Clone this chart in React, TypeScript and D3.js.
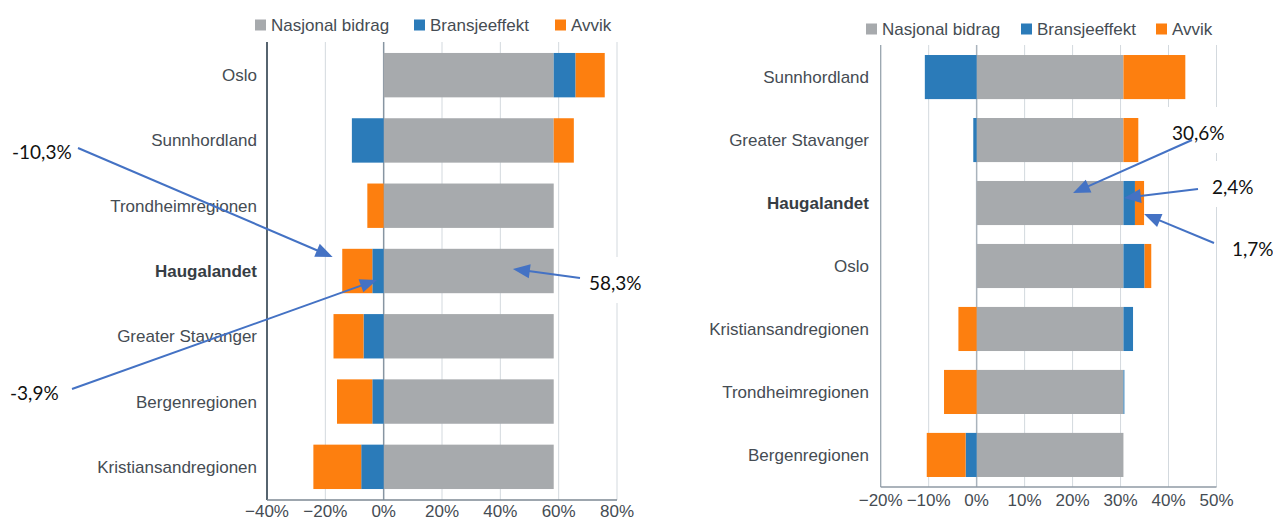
import React from 'react';
import * as d3 from 'd3';

const W = 1273;
const H = 521;

// ---------- data ----------
const seriesKeys = ['nasjonal', 'bransje', 'avvik'];
const seriesNames = ['Nasjonal bidrag', 'Bransjeeffekt', 'Avvik'];
const seriesColors = ['#a7aaad', '#2b7bb9', '#fd7f0f'];

const leftCategories = ['Oslo', 'Sunnhordland', 'Trondheimregionen', 'Haugalandet', 'Greater Stavanger', 'Bergenregionen', 'Kristiansandregionen'];
const leftNasjonal = [58.3, 58.3, 58.3, 58.3, 58.3, 58.3, 58.3];
const leftBransje = [7.5, -10.9, 0, -3.9, -6.9, -3.9, -7.7];
const leftAvvik = [10.0, 6.9, -5.6, -10.3, -10.3, -12.1, -16.4];
const leftTicks = [-40, -20, 0, 20, 40, 60, 80];

const rightCategories = ['Sunnhordland', 'Greater Stavanger', 'Haugalandet', 'Oslo', 'Kristiansandregionen', 'Trondheimregionen', 'Bergenregionen'];
const rightNasjonal = [30.6, 30.6, 30.6, 30.6, 30.6, 30.6, 30.6];
const rightBransje = [-10.8, -0.7, 2.4, 4.4, 2.0, 0.2, -2.3];
const rightAvvik = [12.9, 3.1, 1.9, 1.4, -3.8, -6.8, -8.1];
const rightTicks = [-20, -10, 0, 10, 20, 30, 40, 50];

const boldCategory = 'Haugalandet';

const leftNotes = [
  { text: '-10,3%', tx: 12, ty: 152, sx: 78, sy: 148, tipV: -17.5, tipCat: 'Haugalandet', tipDy: -14, box: false },
  { text: '-3,9%', tx: 10, ty: 393, sx: 72, sy: 389, tipV: -2.3, tipCat: 'Haugalandet', tipDy: 9, box: false },
  { text: '58,3%', tx: 589, ty: 283, sx: 580, sy: 278, tipV: 44.3, tipCat: 'Haugalandet', tipDy: -2, box: true },
];
const rightNotes = [
  { text: '30,6%', tx: 1172, ty: 133, sx: 1192, sy: 140, tipV: 20.1, tipCat: 'Haugalandet', tipDy: -10, box: true },
  { text: '2,4%', tx: 1212, ty: 187, sx: 1198, sy: 189, tipV: 30.7, tipCat: 'Haugalandet', tipDy: -5, box: true },
  { text: '1,7%', tx: 1232, ty: 249, sx: 1214, sy: 243, tipV: 34.9, tipCat: 'Haugalandet', tipDy: 11, box: true },
];

// ---------- panel configs ----------
const panels = [
  {
    id: 'L',
    categories: leftCategories,
    values: [leftNasjonal, leftBransje, leftAvvik],
    ticks: leftTicks,
    xDomain: [-40, 80],
    xRange: [267, 617],
    yRange: [42, 500],
    padInner: 0.32,
    padOuter: 0.168,
    labelX: 257,
    tickBaseline: 517,
    axisColor: '#56646f',
    axisWidth: 2,
    zeroColor: '#8795a2',
    bottomColor: '#7d8893',
    legendY: 25,
    legend: [255, 414, 555],
    notes: leftNotes,
  },
  {
    id: 'R',
    categories: rightCategories,
    values: [rightNasjonal, rightBransje, rightAvvik],
    ticks: rightTicks,
    xDomain: [-20, 50],
    xRange: [880.7, 1216.5],
    yRange: [45, 487],
    padInner: 0.30,
    padOuter: 0.159,
    labelX: 869,
    tickBaseline: 506,
    axisColor: '#98a4ae',
    axisWidth: 1.3,
    zeroColor: '#a9b3bc',
    bottomColor: '#8f9aa5',
    legendY: 29,
    legend: [866, 1021, 1156],
    notes: rightNotes,
  },
];

const textColor = '#454c53';
const gridColor = '#d3d9de';
const arrowColor = '#4472c4';
const chartFont = '"Liberation Sans", Arial, sans-serif';
const noteFont = 'Lato, "Open Sans", sans-serif';

const fmtTick = (v: number) => (v < 0 ? '\u2212' : '') + Math.abs(v) + '%';

function Arrow({ sx, sy, ex, ey }: { sx: number; sy: number; ex: number; ey: number }) {
  const dx = ex - sx;
  const dy = ey - sy;
  const len = Math.sqrt(dx * dx + dy * dy);
  const ux = dx / len;
  const uy = dy / len;
  const headLen = 17;
  const headHalf = 7;
  const bx = ex - ux * headLen;
  const by = ey - uy * headLen;
  const px = -uy;
  const py = ux;
  const pts = [
    [ex, ey],
    [bx + px * headHalf, by + py * headHalf],
    [bx - px * headHalf, by - py * headHalf],
  ];
  return (
    <g>
      <line x1={sx} y1={sy} x2={ex - ux * headLen * 0.6} y2={ey - uy * headLen * 0.6} stroke={arrowColor} strokeWidth={2} />
      <polygon points={pts.map((p) => p.join(',')).join(' ')} fill={arrowColor} />
    </g>
  );
}

function Panel({ cfg }: { cfg: (typeof panels)[number] }) {
  const x = d3.scaleLinear().domain(cfg.xDomain).range(cfg.xRange);
  const y = d3
    .scaleBand<string>()
    .domain(cfg.categories)
    .range(cfg.yRange as [number, number])
    .paddingInner(cfg.padInner)
    .paddingOuter(cfg.padOuter);

  const rows = cfg.categories.map((c, i) => {
    const r: any = { cat: c };
    seriesKeys.forEach((k, j) => {
      r[k] = cfg.values[j][i];
    });
    return r;
  });
  const stacked = d3.stack<any>().keys(seriesKeys).offset(d3.stackOffsetDiverging)(rows);

  const [y0, y1] = cfg.yRange;
  const [x0, x1] = cfg.xRange;
  const noteW = (t: string) => t.length * 10.6;

  return (
    <g>
      {/* gridlines */}
      {cfg.ticks
        .filter((t) => t !== cfg.xDomain[0])
        .map((t) => (
          <line
            key={'g' + t}
            x1={x(t)}
            x2={x(t)}
            y1={y0}
            y2={y1}
            stroke={t === 0 ? cfg.zeroColor : gridColor}
            strokeWidth={t === 0 ? 1.5 : 1}
          />
        ))}
      {/* bars */}
      {stacked.map((s, si) => (
        <g key={s.key} fill={seriesColors[si]}>
          {s.map((d: any, i: number) => {
            const a = x(d[0]);
            const b = x(d[1]);
            const w = Math.abs(b - a);
            if (w < 0.01) return null;
            return <rect key={i} x={Math.min(a, b)} y={y(cfg.categories[i])} width={w} height={y.bandwidth()} />;
          })}
        </g>
      ))}
      {/* axes */}
      <line x1={x0} x2={x0} y1={y0} y2={y1} stroke={cfg.axisColor} strokeWidth={cfg.axisWidth} />
      <line x1={x0} x2={x1} y1={y1} y2={y1} stroke={cfg.bottomColor} strokeWidth={1.5} />
      {/* tick labels */}
      {cfg.ticks.map((t) => (
        <text key={'t' + t} x={x(t)} y={cfg.tickBaseline} textAnchor="middle" fontFamily={chartFont} fontSize={17} fill={textColor}>
          {fmtTick(t)}
        </text>
      ))}
      {/* category labels */}
      {cfg.categories.map((c) => (
        <text
          key={'c' + c}
          x={cfg.labelX}
          y={(y(c) as number) + y.bandwidth() / 2 + 6}
          textAnchor="end"
          fontFamily={chartFont}
          fontSize={17}
          fontWeight={c === boldCategory ? 'bold' : 'normal'}
          fill={c === boldCategory ? '#363d44' : textColor}
        >
          {c}
        </text>
      ))}
      {/* legend */}
      {seriesNames.map((n, i) => (
        <g key={'l' + n}>
          <rect x={cfg.legend[i]} y={cfg.legendY - 5.5} width={11} height={11} fill={seriesColors[i]} />
          <text x={cfg.legend[i] + 16} y={cfg.legendY + 6} fontFamily={chartFont} fontSize={17} fill={textColor}>
            {n}
          </text>
        </g>
      ))}
      {/* annotations */}
      {cfg.notes.map((n) => {
        const ex = x(n.tipV);
        const ey = (y(n.tipCat) as number) + y.bandwidth() / 2 + n.tipDy;
        return (
          <g key={'n' + n.text}>
            {n.box && <rect x={n.tx - 6} y={n.ty - 26} width={noteW(n.text) + 12} height={46} fill="#ffffff" />}
            <Arrow sx={n.sx} sy={n.sy} ex={ex} ey={ey} />
            <text x={n.tx} y={n.ty + 7} fontFamily={noteFont} fontSize={19} fill="#111111">
              {n.text}
            </text>
          </g>
        );
      })}
    </g>
  );
}

export default function App() {
  return (
    <svg
      width={W}
      height={H}
      viewBox={`0 0 ${W} ${H}`}
      style={{ position: 'absolute', left: 0, top: 0, background: '#ffffff' }}
    >
      <rect x={0} y={0} width={W} height={H} fill="#ffffff" />
      {panels.map((p) => (
        <Panel key={p.id} cfg={p} />
      ))}
    </svg>
  );
}
